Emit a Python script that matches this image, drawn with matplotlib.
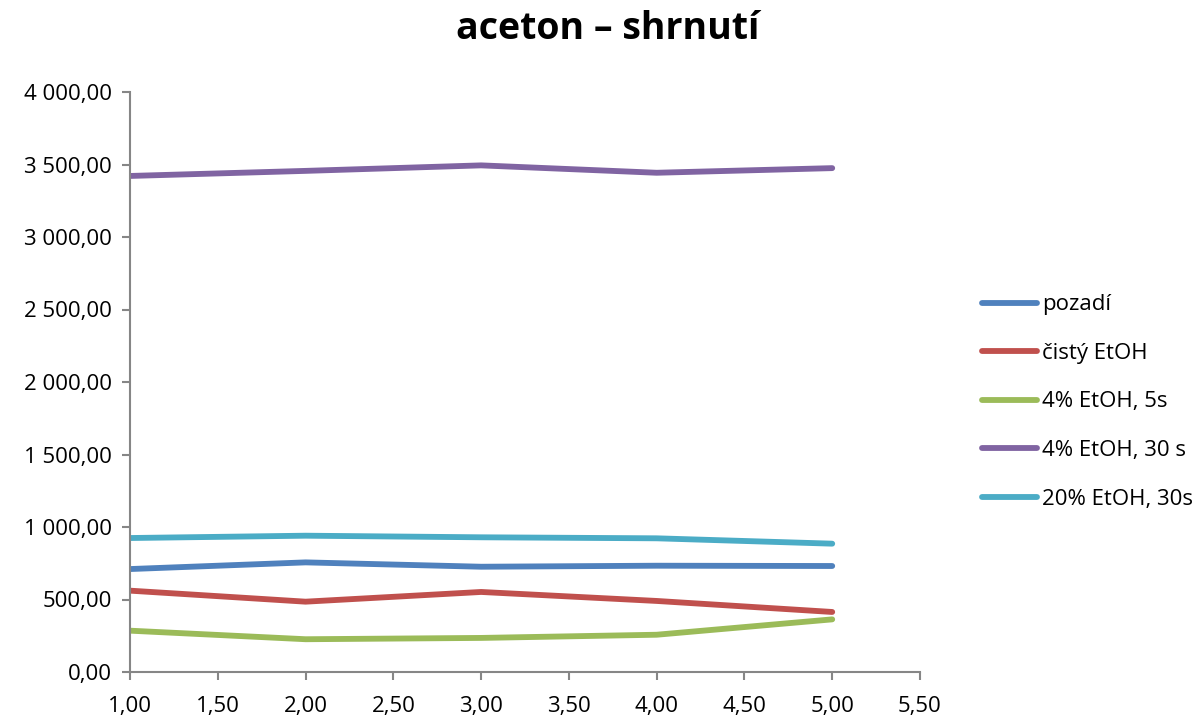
import matplotlib.pyplot as plt
from matplotlib.ticker import FuncFormatter, MultipleLocator

plt.rcParams['font.family'] = ['Open Sans', 'DejaVu Sans']

x = [1, 2, 3, 4, 5]
pozadi = [710, 756, 726, 733, 731]
cisty_etoh = [561, 485, 552, 490, 414]
etoh4_5s = [285, 226, 235, 257, 363]
etoh4_30s = [3421, 3456, 3494, 3443, 3475]
etoh20_30s = [924, 940, 929, 922, 885]

labels = ["pozadí", "čistý EtOH", "4% EtOH, 5s", "4% EtOH, 30 s", "20% EtOH, 30s"]
colors = ["#4F81BD", "#C0504D", "#9BBB59", "#8064A2", "#4BACC6"]
series = [pozadi, cisty_etoh, etoh4_5s, etoh4_30s, etoh20_30s]


def cz_fmt(v, pos):
    s = f"{v:,.2f}"
    return s.replace(",", " ").replace(".", ",")


fig = plt.figure(figsize=(12.02, 7.19), dpi=100)
ax = fig.add_axes([130 / 1202, 1 - 672 / 719, 790 / 1202, 580 / 719])

for ys, lab, c in zip(series, labels, colors):
    ax.plot(x, ys, color=c, lw=4.2, label=lab, solid_capstyle="round", solid_joinstyle="round")

ax.set_xlim(1, 5.5)
ax.set_ylim(0, 4000)
ax.xaxis.set_major_locator(MultipleLocator(0.5))
ax.yaxis.set_major_locator(MultipleLocator(500))
ax.xaxis.set_major_formatter(FuncFormatter(cz_fmt))
ax.yaxis.set_major_formatter(FuncFormatter(cz_fmt))

for side in ["top", "right"]:
    ax.spines[side].set_visible(False)
for side in ["left", "bottom"]:
    ax.spines[side].set_color("#868686")
    ax.spines[side].set_linewidth(1.5)
ax.tick_params(axis="both", direction="out", length=6, width=1.5, color="#868686",
               labelsize=16, labelcolor="black")
ax.tick_params(axis="x", pad=11)
ax.tick_params(axis="y", pad=7)

fig.text(608 / 1202, 1 - 29 / 719, "aceton – shrnutí", ha="center", va="center",
         fontsize=27, fontweight="bold")

ax.legend(loc="center left", bbox_to_anchor=(973 / 1202, 1 - 402 / 719),
          bbox_transform=fig.transFigure, frameon=False, fontsize=16,
          borderaxespad=0, handlelength=2.5, handletextpad=0.2, labelspacing=1.24)

fig.savefig("out.png", dpi=100)
